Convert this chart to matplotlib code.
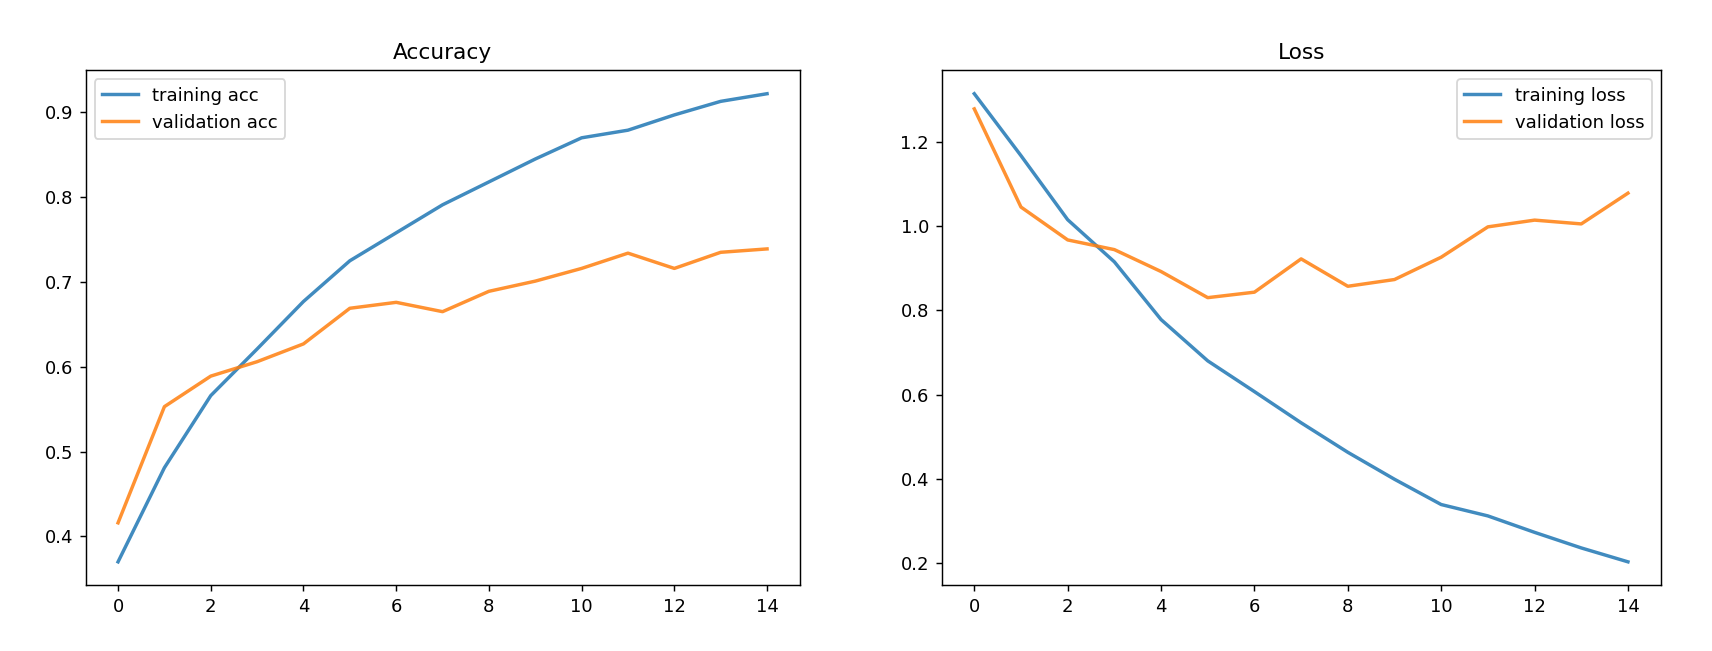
import matplotlib
matplotlib.use("Agg")
import matplotlib.pyplot as plt

# training history (15 epochs)
epochs = list(range(15))
train_acc = [0.370, 0.481, 0.566, 0.621, 0.677, 0.725, 0.758, 0.791, 0.818, 0.845, 0.870, 0.879, 0.897, 0.913, 0.922]
val_acc = [0.416, 0.553, 0.589, 0.606, 0.627, 0.669, 0.676, 0.665, 0.689, 0.701, 0.716, 0.734, 0.716, 0.735, 0.739]
train_loss = [1.314, 1.167, 1.015, 0.915, 0.778, 0.680, 0.607, 0.533, 0.463, 0.399, 0.339, 0.312, 0.273, 0.236, 0.203]
val_loss = [1.278, 1.045, 0.967, 0.944, 0.892, 0.830, 0.843, 0.922, 0.857, 0.873, 0.926, 0.998, 1.014, 1.005, 1.078]

dpi = 130
lw = 1.9
fig = plt.figure(figsize=(1712 / dpi, 651 / dpi), dpi=dpi)

# accuracy
ax1 = fig.add_axes([0.050, 0.101, 0.417, 0.791])
ax1.plot(epochs, train_acc, lw=lw, alpha=0.85, label="training acc")
ax1.plot(epochs, val_acc, lw=lw, alpha=0.85, label="validation acc")
ax1.set_title("Accuracy")
ax1.legend(loc="upper left")

# loss
ax2 = fig.add_axes([0.550, 0.101, 0.420, 0.791])
ax2.plot(epochs, train_loss, lw=lw, alpha=0.85, label="training loss")
ax2.plot(epochs, val_loss, lw=lw, alpha=0.85, label="validation loss")
ax2.set_title("Loss")
ax2.legend(loc="upper right")

fig.savefig("out.png", dpi=dpi)
